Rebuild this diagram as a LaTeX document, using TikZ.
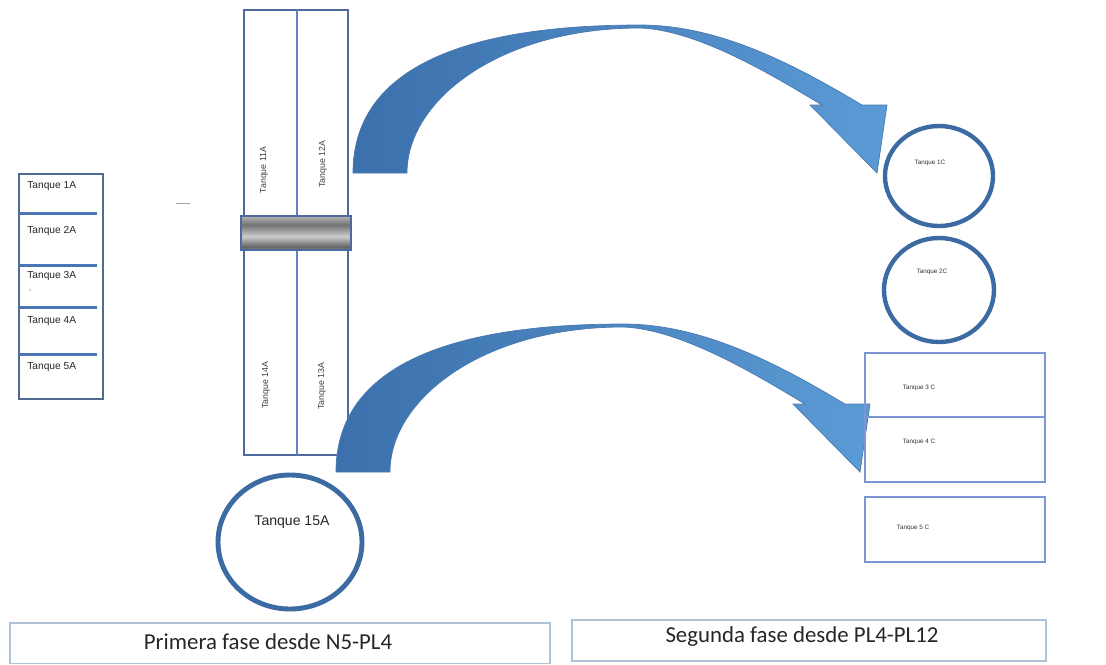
\documentclass[tikz,border=0pt]{standalone}
\usepackage{fontspec}
\setmainfont{Liberation Sans}
\newfontfamily\calibri{Carlito}
\definecolor{boxline}{HTML}{4F6B93}
\definecolor{divline}{HTML}{4A76B8}
\definecolor{colline}{HTML}{4F6A9E}
\definecolor{midline}{HTML}{5B85C6}
\definecolor{ringblue}{HTML}{3C6AA3}
\definecolor{cline}{HTML}{7D97D2}
\definecolor{phaseline}{HTML}{AFC2D6}
\definecolor{flowdark}{HTML}{3B70AC}
\definecolor{flowlight}{HTML}{5B9BD5}
\definecolor{flowedge}{HTML}{4A7AB0}
\pgfdeclareverticalshading{cylband}{100bp}{color(0bp)=(black!65); color(12bp)=(black!25); color(30bp)=(black!60); color(45bp)=(black!20); color(62bp)=(black!55); color(80bp)=(black!20); color(100bp)=(black!65)}

\begin{document}
\begin{tikzpicture}[x=0.02cm,y=-0.02cm,
  tankbox/.style={draw=boxline,line width=1.1pt},
  divider/.style={draw=divline,line width=1.7pt},
  column/.style={draw=colline,line width=0.9pt},
  colsplit/.style={draw=midline,line width=0.7pt},
  ring/.style={draw=ringblue,line width=2.5pt},
  cbox/.style={draw=cline,line width=0.9pt},
  phase/.style={draw=phaseline,line width=0.6pt},
  flow/.style={draw=flowedge,line width=0.4pt,left color=flowdark,right color=flowlight},
  tlabel/.style={inner sep=0pt,text=black!85,font=\fontsize{5.8}{7}\selectfont},
  vlabel/.style={inner sep=0pt,rotate=90,text=black!75,font=\fontsize{5}{6}\selectfont},
  clabel/.style={inner sep=0pt,text=black!80,font=\fontsize{3.6}{4.5}\selectfont},
  phaselabel/.style={inner sep=0pt,text=black!85,font=\calibri\fontsize{13}{15}\selectfont}
]
  \useasboundingbox (0,0) rectangle (1106,664);
  % first phase: tanks A
  \draw[tankbox] (19,174) rectangle (103,399);
  \foreach \y in {213,265,307,354} \draw[divider] (19,\y) -- (97,\y);
  \foreach \n/\y in {1/186,2/231,3/276,4/321,5/367}
    \node[tlabel,anchor=west] (tank\n a) at (27,\y) {Tanque \n A};
  \fill[black!70] (30,290) circle (0.7);
  \draw[gray!70,line width=0.4pt] (176,203) -- (190,203);
  \draw[column] (244,10) rectangle (348,216);
  \draw[column] (244,250) rectangle (348,455);
  \draw[colsplit] (297,10) -- (297,216);
  \draw[colsplit] (297,250) -- (297,455);
  \shade[shading=cylband,draw=colline,line width=0.9pt] (241,216) rectangle (351,250);
  \node[vlabel] (tank11a) at (264,170) {Tanque 11A};
  \node[vlabel] (tank12a) at (323,164) {Tanque 12A};
  \node[vlabel] (tank14a) at (266,385) {Tanque 14A};
  \node[vlabel] (tank13a) at (322,386) {Tanque 13A};
  \draw[ring,line width=2.8pt] (290,542) ellipse (72 and 67);
  \node[tlabel,font=\fontsize{8}{9.6}\selectfont] (tank15a) at (292,522) {Tanque 15A};
  % transfer arrows
  \foreach \dx/\dy in {0/0,-17/299}
    \shade[flow,shift={(\dx,\dy)}] (353,173) .. controls (353,70) and (460,25) .. (640,25)
      .. controls (720,25) and (795,65) .. (862,105) -- (887,105) -- (877,173)
      -- (810,105) -- (822,105) .. controls (780,80) and (700,30) .. (640,28)
      .. controls (500,28) and (407,100) .. (407,173) -- cycle;
  % second phase: tanks C
  \draw[ring] (939,176) ellipse (54 and 50);
  \draw[ring] (939,290) ellipse (55 and 52);
  \node[clabel] (tank1c) at (930,163) {Tanque 1C};
  \node[clabel] (tank2c) at (932,272) {Tanque 2C};
  \draw[cbox] (865,353) rectangle (1045,482);
  \draw[cbox,line width=1.2pt] (865,417) -- (1045,417);
  \draw[cbox] (865,497) rectangle (1045,562);
  \node[clabel] (tank3c) at (919,388) {Tanque 3 C};
  \node[clabel] (tank4c) at (919,442) {Tanque 4 C};
  \node[clabel] (tank5c) at (913,528) {Tanque 5 C};
  % phase captions
  \draw[phase] (10,623) rectangle (550,663.5);
  \draw[phase] (572,620) rectangle (1046,661);
  \node[phaselabel] (phase1) at (268,642) {Primera fase desde N5-PL4};
  \node[phaselabel] (phase2) at (802,637) {Segunda fase desde PL4-PL12};
\end{tikzpicture}
\end{document}
